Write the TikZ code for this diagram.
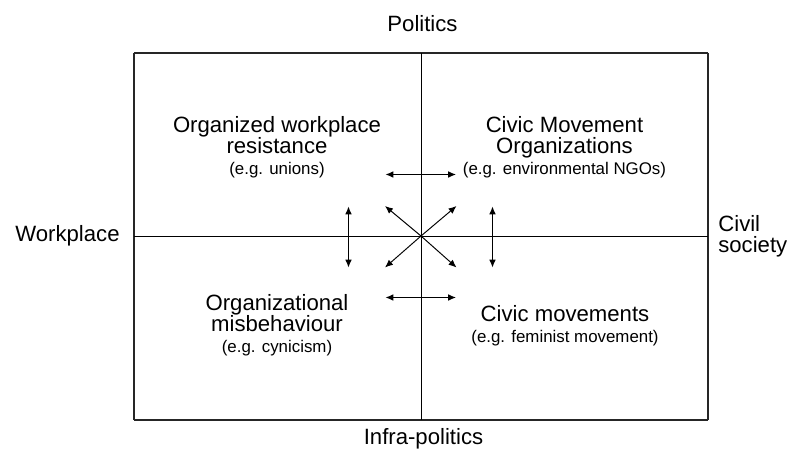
\documentclass[tikz,border=0pt]{standalone}
\usepackage{fontspec}
\setmainfont{Liberation Sans}
\usetikzlibrary{arrows.meta}
\pgfdeclarelayer{edgelayer}
\pgfdeclarelayer{nodelayer}
\pgfsetlayers{edgelayer,nodelayer,main}
\tikzstyle{none}=[inner sep=0pt]
\tikzstyle{quadrant}=[inner sep=0pt,anchor=base,align=center,font=\fontsize{12.6}{12.1}\selectfont]
\tikzstyle{axis}=[inner sep=0pt,anchor=base,font=\fontsize{12.6}{12.1}\selectfont]
\tikzstyle{frame}=[-,draw=black!85,line width=0.8pt]
\tikzstyle{simple}=[-,draw=black,line width=0.55pt]
\tikzstyle{exchange}=[{Latex[length=4.5pt,width=3.8pt]}-{Latex[length=4.5pt,width=3.8pt]},draw=black,line width=0.55pt]
\tikzstyle{spoke}=[-{Latex[length=4.5pt,width=3.8pt]},draw=black,line width=0.55pt]
\newcommand{\egsize}{\fontsize{9.6}{11.4}\selectfont}

\begin{document}
\begin{tikzpicture}
	\path [use as bounding box] (-8.42, 4.72) rectangle (7.34, -4.32);
	\begin{pgfonlayer}{nodelayer}
		\node [style=none] (0) at (-5.74, 3.66) {};
		\node [style=none] (1) at (5.74, 3.66) {};
		\node [style=none] (2) at (5.74, -3.68) {};
		\node [style=none] (3) at (-5.74, -3.68) {};
		\node [style=none] (4) at (0, 3.66) {};
		\node [style=none] (5) at (0, -3.68) {};
		\node [style=none] (6) at (-5.74, 0) {};
		\node [style=none] (7) at (5.74, 0) {};
		\node [style=none] (8) at (0, 0) {};
		\node [style=none] (9) at (-0.71, 1.23) {};
		\node [style=none] (10) at (0.7, 1.23) {};
		\node [style=none] (11) at (-0.71, -1.23) {};
		\node [style=none] (12) at (0.7, -1.23) {};
		\node [style=none] (13) at (-1.45, 0.59) {};
		\node [style=none] (14) at (-1.45, -0.63) {};
		\node [style=none] (15) at (1.43, 0.59) {};
		\node [style=none] (16) at (1.43, -0.63) {};
		\node [style=none] (17) at (-0.72, 0.6) {};
		\node [style=none] (18) at (0.71, 0.6) {};
		\node [style=none] (19) at (-0.72, -0.63) {};
		\node [style=none] (20) at (0.71, -0.63) {};
		\node [style=axis] (21) at (0.03, 4.08) {Politics};
		\node [style=axis] (22) at (0.05, -4.18) {Infra-politics};
		\node [style=axis] (23) at (-7.07, -0.11) {Workplace};
		\node [style=quadrant, align=left, anchor=base west] (24) at (5.94, -0.34) {Civil\\society};
		\node [style=quadrant] (25) at (-2.88, 1.22) {Organized workplace\\resistance\\{\egsize (e.g. unions)}};
		\node [style=quadrant] (26) at (2.87, 1.22) {Civic Movement\\Organizations\\{\egsize (e.g. environmental NGOs)}};
		\node [style=quadrant] (27) at (-2.88, -2.34) {Organizational\\misbehaviour\\{\egsize (e.g. cynicism)}};
		\node [style=quadrant] (28) at (2.88, -2.14) {Civic movements\\{\egsize (e.g. feminist movement)}};
	\end{pgfonlayer}
	\begin{pgfonlayer}{edgelayer}
		\draw [style=frame] (0.center) to (1.center);
		\draw [style=frame] (1.center) to (2.center);
		\draw [style=frame] (2.center) to (3.center);
		\draw [style=frame] (3.center) to (0.center);
		\draw [style=simple] (4.center) to (5.center);
		\draw [style=simple] (6.center) to (7.center);
		\draw [style=exchange] (9.center) to (10.center);
		\draw [style=exchange] (11.center) to (12.center);
		\draw [style=exchange] (13.center) to (14.center);
		\draw [style=exchange] (15.center) to (16.center);
		\draw [style=spoke] (8.center) to (17.center);
		\draw [style=spoke] (8.center) to (18.center);
		\draw [style=spoke] (8.center) to (19.center);
		\draw [style=spoke] (8.center) to (20.center);
	\end{pgfonlayer}
\end{tikzpicture}
\end{document}
